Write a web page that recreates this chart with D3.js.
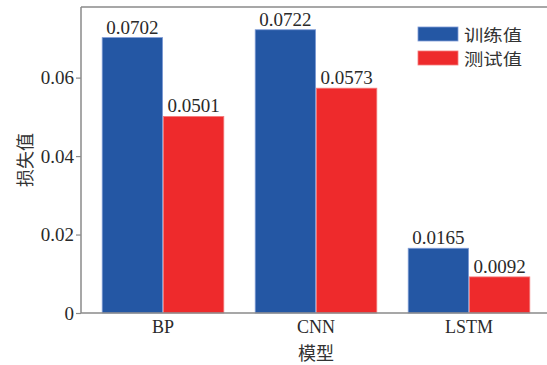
<!DOCTYPE html>
<html><head><meta charset="utf-8">
<script src="https://cdn.jsdelivr.net/npm/d3@7/dist/d3.min.js"></script>
<style>body{margin:0;background:#fff}svg{display:block}</style>
</head><body>
<svg id="c" width="547" height="365"></svg>
<script>
const categories = ["BP", "CNN", "LSTM"];
const seriesNames = ["训练值", "测试值"];
const trainValues = [0.0702, 0.0722, 0.0165];
const testValues = [0.0501, 0.0573, 0.0092];
const yTicks = [0, 0.02, 0.04, 0.06];
const yTickLabels = ["0", "0.02", "0.04", "0.06"];
const colors = ["#2457a4", "#ee2a2c"];
const edgeColors = ["#7f9bd6", "#f47a7a"];

const svg = d3.select("#c");
const L = 81, T = 7, R = 547, B = 313;
const serif = "'Liberation Serif','DejaVu Serif',serif";
const cjk = "'Noto Sans CJK SC',sans-serif";

const x = d3.scaleBand().domain(categories).range([86.5, 545.5]).paddingInner(0.2).paddingOuter(0.1);
const xs = d3.scaleBand().domain([0,1]).range([0, x.bandwidth()]);
const y = d3.scaleLinear().domain([0, 0.078]).range([B, T]);

const data = categories.map((c,i)=>({c, v:[trainValues[i], testValues[i]]}));

const g = svg.append("g");
const groups = g.selectAll("g.grp").data(data).join("g").attr("transform", d=>`translate(${x(d.c)},0)`);
groups.selectAll("rect").data(d=>d.v.map((v,k)=>({v,k}))).join("rect")
  .attr("x", d=>xs(d.k)+0.4).attr("width", xs.bandwidth()-0.8)
  .attr("y", d=>y(d.v)).attr("height", d=>B - y(d.v))
  .attr("fill", d=>colors[d.k]).attr("stroke", d=>edgeColors[d.k]).attr("stroke-width", 0.8);
groups.selectAll("text").data(d=>d.v.map((v,k)=>({v,k}))).join("text")
  .attr("x", d=>xs(d.k)+xs.bandwidth()/2).attr("y", d=>y(d.v)-4)
  .attr("text-anchor","middle").attr("font-family", serif).attr("font-size", 19)
  .attr("fill","#2a2a2a").text(d=>d.v.toFixed(4));

// axes frame
const axisColor = "#8a8a8a";
svg.append("line").attr("x1",L).attr("x2",R).attr("y1",T).attr("y2",T).attr("stroke",axisColor).attr("stroke-width",1.5);

const yAxis = d3.axisLeft(y).tickValues(yTicks).tickFormat((d,i)=>yTickLabels[i]).tickSize(5).tickPadding(2);
const ya = svg.append("g").attr("transform",`translate(${L},0)`).call(yAxis);
ya.select(".domain").attr("stroke",axisColor).attr("stroke-width",1.5).attr("d",`M0,${T}V${B}`);
ya.selectAll(".tick line").attr("stroke",axisColor).attr("stroke-width",1.2);
ya.selectAll(".tick text").attr("font-family",serif).attr("font-size",19).attr("fill","#2a2a2a");

const xAxis = d3.axisBottom(x).tickSize(0).tickPadding(7);
const xa = svg.append("g").attr("transform",`translate(0,${B})`).call(xAxis);
xa.select(".domain").attr("stroke",axisColor).attr("stroke-width",1.5).attr("d",`M${L},0H${R}`);
xa.selectAll(".tick text").attr("font-family",serif).attr("font-size",18).attr("fill","#2a2a2a");

svg.append("text").attr("x",316).attr("y",360).attr("text-anchor","middle")
  .attr("font-family",cjk).attr("font-size",18).attr("fill","#333").text("模型");
svg.append("text").attr("transform","translate(32,160) rotate(-90)").attr("text-anchor","middle")
  .attr("font-family",cjk).attr("font-size",18).attr("fill","#333").text("损失值");

// legend
const lg = svg.append("g");
seriesNames.forEach((n,i)=>{
  lg.append("rect").attr("x",418).attr("y",27+i*24).attr("width",40).attr("height",14)
    .attr("fill",colors[i]).attr("stroke",edgeColors[i]).attr("stroke-width",0.8);
  lg.append("text").attr("x",464).attr("y",34+i*24).attr("dominant-baseline","central")
    .attr("font-family",cjk).attr("font-size",16.4).attr("textLength",58).attr("lengthAdjust","spacingAndGlyphs")
    .attr("fill","#333").text(n);
});
</script>
</body></html>
